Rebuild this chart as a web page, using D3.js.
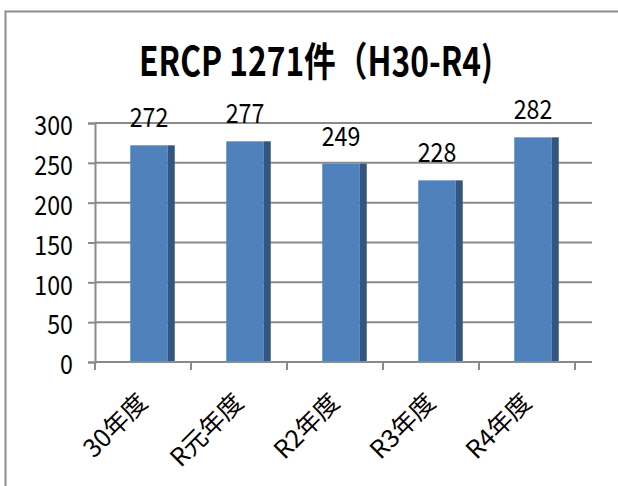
<!DOCTYPE html>
<html>
<head>
<meta charset="utf-8">
<script src="https://cdn.jsdelivr.net/npm/d3@7"></script>
<style>
  html, body { margin: 0; padding: 0; background: #fff; }
  svg { display: block; }
  text { font-family: "Noto Sans CJK JP", "Noto Sans", sans-serif; fill: #000; }
</style>
</head>
<body>
<svg id="chart" width="618" height="486"></svg>
<script>
// ERCP cases per fiscal year
const categories = ["30年度", "R元年度", "R2年度", "R3年度", "R4年度"];
const cases = [272, 277, 249, 228, 282];
const yTicks = [0, 50, 100, 150, 200, 250, 300];
const titleText = "ERCP 1271件（H30-R4)";

const svg = d3.select("#chart");
const W = 618, H = 486;

// frame
svg.append("rect")
  .attr("x", 5.5).attr("y", 11.5)
  .attr("width", W + 20).attr("height", H + 20)
  .attr("fill", "#fff").attr("stroke", "#8c8c8c").attr("stroke-width", 2);

const plot = { left: 95, right: 575, top: 123, bottom: 362 };
const depth = 17;          // floor/wall extension of the pseudo-3D columns
const textSX = 0.86;       // horizontal squeeze of numeric labels

const x = d3.scaleBand().domain(categories).range([plot.left, plot.right]).paddingInner(0).paddingOuter(0);
const y = d3.scaleLinear().domain([0, 300]).range([plot.bottom, plot.top]);

const gridColor = "#8a8a8a";

// horizontal gridlines
svg.append("g").selectAll("line").data(yTicks.filter(t => t > 0)).join("line")
  .attr("x1", plot.left).attr("x2", plot.right + depth)
  .attr("y1", d => y(d)).attr("y2", d => y(d))
  .attr("stroke", gridColor).attr("stroke-width", 2);

// y axis
const yAxis = svg.append("g").attr("transform", `translate(${plot.left},0)`)
  .call(d3.axisLeft(y).tickValues(yTicks).tickSize(7).tickPadding(0).tickFormat(d3.format("d")));
yAxis.select(".domain").attr("stroke", gridColor).attr("stroke-width", 2);
yAxis.selectAll(".tick line").attr("stroke", gridColor).attr("stroke-width", 2);
yAxis.selectAll(".tick text")
  .attr("x", null).attr("dy", null)
  .attr("font-size", 27)
  .attr("text-anchor", "end")
  .attr("dominant-baseline", "central")
  .attr("transform", `translate(-22,0) scale(${textSX},1)`);

// columns: front face and shaded side face
const frontW = 37.5, sideW = 7;
const barOffset = x.bandwidth() / 2 + depth / 2 + 1 - (frontW + sideW) / 2;
const bars = svg.append("g").selectAll("g").data(categories).join("g");
bars.append("rect")
  .attr("x", d => x(d) + barOffset)
  .attr("y", (d, i) => y(cases[i]))
  .attr("width", frontW)
  .attr("height", (d, i) => y(0) - y(cases[i]))
  .attr("fill", "#4f81bd");
bars.append("rect")
  .attr("x", d => x(d) + barOffset + frontW)
  .attr("y", (d, i) => y(cases[i]))
  .attr("width", sideW)
  .attr("height", (d, i) => y(0) - y(cases[i]))
  .attr("fill", "#33557f");

// x axis
const xAxisY = y(0);
svg.append("line")
  .attr("x1", plot.left).attr("x2", plot.right + depth)
  .attr("y1", xAxisY).attr("y2", xAxisY)
  .attr("stroke", gridColor).attr("stroke-width", 2);
const xTickPos = categories.map(c => x(c)).concat([plot.right]);
svg.append("g").selectAll("line").data(xTickPos).join("line")
  .attr("x1", d => d).attr("x2", d => d)
  .attr("y1", xAxisY).attr("y2", xAxisY + 8)
  .attr("stroke", gridColor).attr("stroke-width", 2);

// category labels, rotated
svg.append("g").selectAll("text").data(categories).join("text")
  .attr("transform", d => `translate(${x(d) + x.bandwidth() / 2 + 6},${xAxisY + 42}) rotate(-45)`)
  .attr("text-anchor", "end")
  .attr("font-size", 25)
  .text(d => d);

// value labels
svg.append("g").selectAll("text").data(categories).join("text")
  .attr("transform", (d, i) => `translate(${x(d) + barOffset + frontW / 2},${y(cases[i]) - 18}) scale(${textSX},1)`)
  .attr("text-anchor", "middle")
  .attr("font-size", 27)
  .text((d, i) => cases[i]);

// title
svg.append("text")
  .attr("x", 139).attr("y", 76)
  .attr("font-size", 40)
  .attr("font-weight", "bold")
  .attr("textLength", 354)
  .attr("lengthAdjust", "spacingAndGlyphs")
  .text(titleText);
</script>
</body>
</html>
